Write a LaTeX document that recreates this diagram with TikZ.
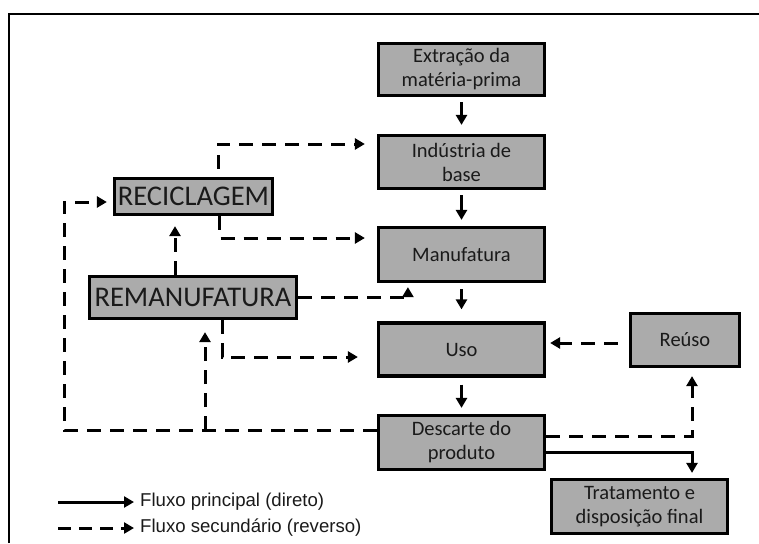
\documentclass[tikz,border=0pt]{standalone}
\usepackage{fontspec}
\setmainfont{Carlito}
\newfontfamily\legendfont{Liberation Sans}
\usetikzlibrary{arrows.meta,calc}
\definecolor{boxgray}{RGB}{171,171,171}
\definecolor{ink}{RGB}{26,26,26}

\begin{document}
\begin{tikzpicture}[x=1pt,y=-1pt,
  box/.style={draw=black, line width=3.2pt, fill=boxgray, text=ink,
    inner sep=0pt, align=center, font=\fontsize{20.5}{24}\selectfont},
  bigbox/.style={box, font=\fontsize{28.5}{32}\selectfont},
  main/.style={line width=3pt, line join=miter,
    -{Triangle[length=10pt,width=11pt]}},
  rev/.style={main, dash pattern=on 14pt off 9pt},
  legend/.style={anchor=west, text=ink, inner sep=0pt,
    font=\legendfont\fontsize{18.6}{22}\selectfont}]

  \useasboundingbox (0,0) rectangle (759,543);

  % frame
  \draw[line width=2.8pt] (9,543) -- (9,14) -- (759,14);

  % main chain
  \node[box, minimum width=166pt, minimum height=52pt] (ext)   at (461.5,69.5) {Extração da\\matéria-prima};
  \node[box, minimum width=166pt, minimum height=53pt] (ind)   at (461.5,162)  {Indústria de\\base};
  \node[box, minimum width=166pt, minimum height=54pt] (manuf) at (461.5,254.5) {Manufatura};
  \node[box, minimum width=166pt, minimum height=53pt] (uso)   at (461.5,349.5) {Uso};
  \node[box, minimum width=166pt, minimum height=54pt] (desc)  at (461.5,442.5) {Descarte do\\produto};

  % side boxes
  \node[box, minimum width=109pt, minimum height=53pt] (reuso) at (685,340)    {Reúso};
  \node[box, minimum width=176pt, minimum height=54pt] (trat)  at (639.5,506.5) {Tratamento e\\disposição final};
  \node[bigbox, minimum width=158pt, minimum height=36pt] (recic) at (193.5,196.5) {RECICLAGEM};
  \node[bigbox, minimum width=207pt, minimum height=42pt] (reman) at (193,297.5)  {REMANUFATURA};

  % direct flow
  \draw[main, shorten <=5pt, shorten >=9pt] (ext.south) -- (ind.north);
  \draw[main, shorten <=5pt, shorten >=6pt] (ind.south) -- (manuf.north);
  \draw[main, shorten <=6pt, shorten >=12pt] (manuf.south) -- (uso.north);
  \draw[main, shorten <=7pt, shorten >=6pt] (uso.south) -- (desc.north);
  \draw[main, shorten >=5pt] ([yshift=-9.5pt]desc.east) -| ([xshift=52.5pt]trat.north);

  % reverse flow
  \draw[rev, shorten <=8pt, shorten >=12pt] ([xshift=24.5pt]recic.north) |- ([yshift=18pt]ind.west);
  \draw[rev, shorten >=12pt] ([xshift=26pt]recic.south) |- ([yshift=16.5pt]manuf.west);
  \draw[rev, shorten >=10pt] ([xshift=-18pt]reman.north) -- ([xshift=-18.5pt]recic.south);
  \draw[rev, shorten >=4pt] (reman.east) -| ([xshift=31pt]manuf.south west);
  \draw[rev, shorten >=19pt] ([xshift=29pt]reman.south) |- ([yshift=-7.5pt]uso.west);
  \draw[rev, shorten >=6pt] ([yshift=12.5pt]desc.west) -- (64,430) |- ([yshift=-5.5pt]recic.west);
  \draw[rev, shorten >=12pt] (205,430) -- ([xshift=12pt]reman.south);
  \draw[rev, shorten <=11pt, shorten >=4pt] ([yshift=-3pt]reuso.west) -- ([yshift=-3pt]reuso.west -| uso.east);
  \draw[rev, shorten >=8pt] ([yshift=6.5pt]desc.east) -| ([xshift=7pt]reuso.south);

  % legend
  \coordinate (lsa) at (58,502);
  \coordinate (lsb) at (134,502);
  \coordinate (lda) at (58,528);
  \coordinate (ldb) at (134,528);
  \draw[main] (lsa) -- (lsb);
  \draw[main, dash pattern=on 13pt off 8pt] (lda) -- (ldb);
  \node[legend] (lst) at (140,502) {Fluxo principal (direto)};
  \node[legend] (ldt) at (140,528) {Fluxo secundário (reverso)};
\end{tikzpicture}
\end{document}
